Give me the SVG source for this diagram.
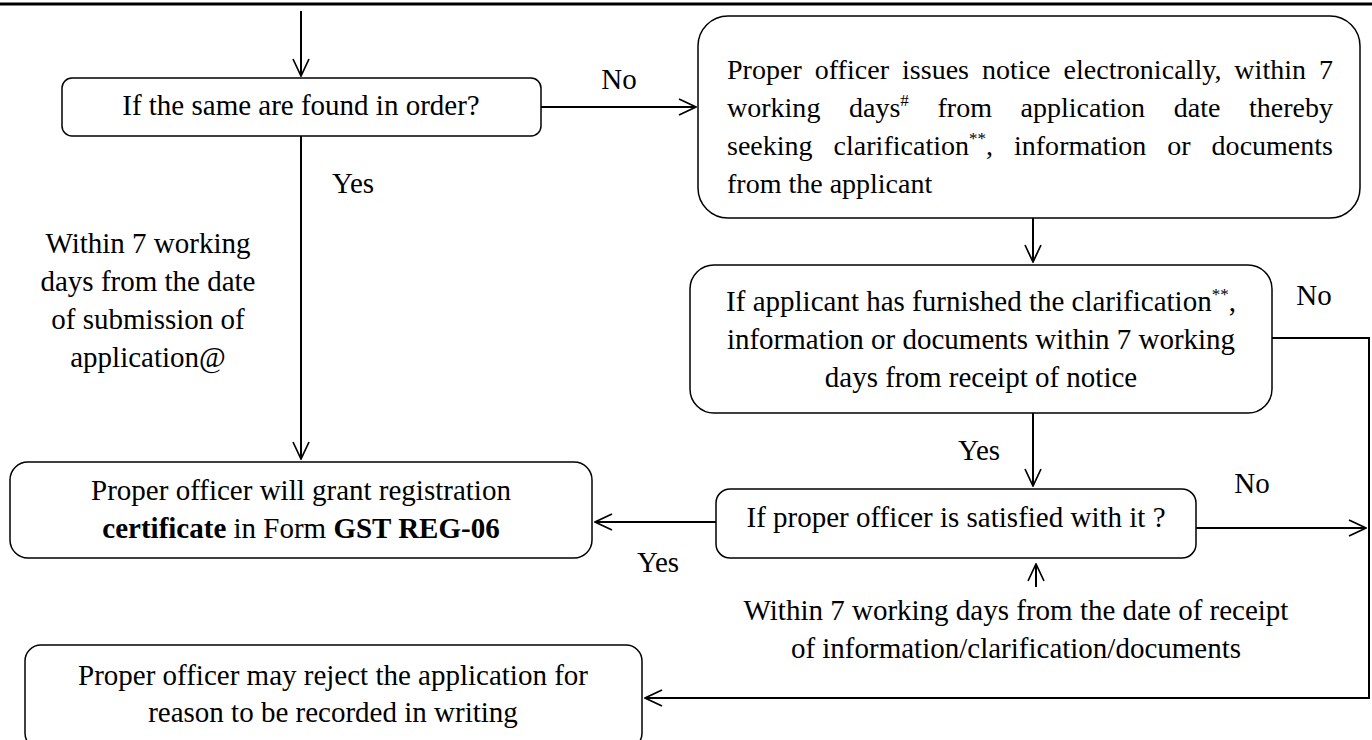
<svg xmlns="http://www.w3.org/2000/svg" width="1372" height="740" viewBox="0 0 1372 740">
<defs>
<marker id="ah" viewBox="0 0 19 18" refX="18" refY="9" markerWidth="19" markerHeight="18" markerUnits="userSpaceOnUse" orient="auto"><path d="M1,1 L18,9 L1,17" fill="none" stroke="#000" stroke-width="1.7"/></marker>
</defs>
<style>
.box{fill:#fff;stroke:#000;stroke-width:1.5}
.t{font-family:"Liberation Serif","Times New Roman",serif;font-size:29px;fill:#000}
.s{font-size:28px}
.c{text-anchor:middle}
.ln{fill:none;stroke:#000;stroke-width:2}
.b{font-weight:bold}
.sup{font-size:17px}
</style>
<rect width="1372" height="740" fill="#fff"/>
<line x1="0" y1="4" x2="1372" y2="4" stroke="#000" stroke-width="3"/>
<g id="connectors">
<path class="ln" d="M301,11 V76" marker-end="url(#ah)"/>
<path class="ln" d="M541,107 H696" marker-end="url(#ah)"/>
<path class="ln" d="M301,136 V459" marker-end="url(#ah)"/>
<path class="ln" d="M1033,218 V262" marker-end="url(#ah)"/>
<path class="ln" d="M1272,338 H1369 V698 H645" marker-end="url(#ah)"/>
<path class="ln" d="M1033,413 V486" marker-end="url(#ah)"/>
<path class="ln" d="M716,522 H595" marker-end="url(#ah)"/>
<path class="ln" d="M1196,528 H1366" marker-end="url(#ah)"/>
<path class="ln" d="M1036,587 V564" marker-end="url(#ah)"/>
</g>
<g id="labels">
<text class="t c" x="619" y="89">No</text>
<text class="t c" x="353" y="193">Yes</text>
<text class="t c" x="1314" y="305">No</text>
<text class="t c" x="979" y="460">Yes</text>
<text class="t c" x="1252" y="493">No</text>
<text class="t c" x="658" y="572">Yes</text>
<text class="t c" x="148" y="253">Within 7 working</text>
<text class="t c" x="148" y="291">days from the date</text>
<text class="t c" x="148" y="329">of submission of</text>
<text class="t c" x="148" y="367">application@</text>
<text class="t c" x="1016" y="620">Within 7 working days from the date of receipt</text>
<text class="t c" x="1016" y="658">of information/clarification/documents</text>
</g>
<g id="n1">
<rect class="box" x="62" y="78" width="479" height="58" rx="10"/>
<text class="t c" x="301" y="115">If the same are found in order?</text>
</g>
<g id="n2">
<rect class="box" x="698" y="16" width="662" height="202" rx="30"/>
<text class="t s" x="727" y="79" word-spacing="5.9" textLength="606" lengthAdjust="spacing">Proper officer issues notice electronically, within 7</text>
<text class="t s" x="727" y="117" word-spacing="21.6" textLength="606" lengthAdjust="spacing">working days<tspan class="sup" dy="-11">#</tspan><tspan dy="11"> from application date thereby</tspan></text>
<text class="t s" x="727" y="155" word-spacing="14" textLength="606" lengthAdjust="spacing">seeking clarification<tspan class="sup" dy="-11">**</tspan><tspan dy="11">, information or documents</tspan></text>
<text class="t s" x="727" y="193">from the applicant</text>
</g>
<g id="n3">
<rect class="box" x="690" y="265" width="582" height="148" rx="24"/>
<text class="t c" x="981" y="311">If applicant has furnished the clarification<tspan class="sup" dy="-11">**</tspan><tspan dy="11">,</tspan></text>
<text class="t c" x="981" y="349">information or documents within 7 working</text>
<text class="t c" x="981" y="387">days from receipt of notice</text>
</g>
<g id="n4">
<rect class="box" x="716" y="489" width="480" height="69" rx="14"/>
<text class="t c" x="956" y="527">If proper officer is satisfied with it ?</text>
</g>
<g id="n5">
<rect class="box" x="10" y="462" width="582" height="96" rx="18"/>
<text class="t c" x="301" y="500">Proper officer will grant registration</text>
<text class="t c" x="301" y="538"><tspan class="b">certificate</tspan> in Form <tspan class="b">GST REG-06</tspan></text>
</g>
<g id="n6">
<rect class="box" x="25" y="645" width="617" height="104" rx="16"/>
<text class="t c" x="333" y="685">Proper officer may reject the application for</text>
<text class="t c" x="333" y="722">reason to be recorded in writing</text>
</g>
</svg>
